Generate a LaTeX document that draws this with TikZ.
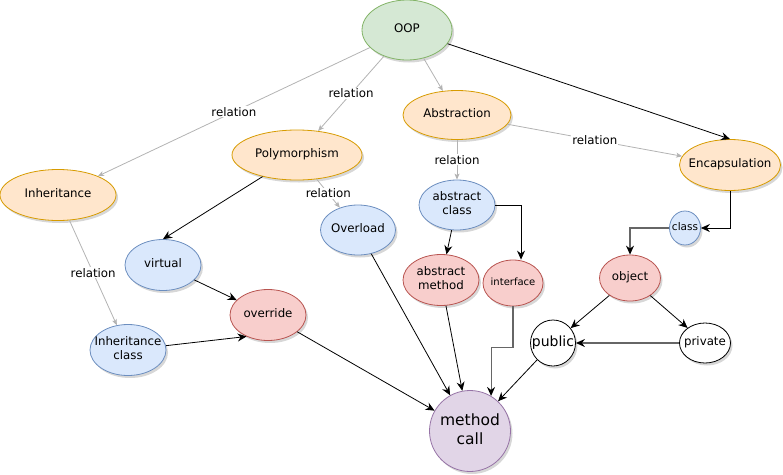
\documentclass[tikz,border=0pt]{standalone}
\usepackage{fontspec}
\setmainfont{DejaVu Sans}
\usepackage{xcolor}
\usepackage{tikz}
\usetikzlibrary{arrows.meta,shapes.geometric,shadows}

\definecolor{grnfill}{HTML}{D5E8D4} \definecolor{grnline}{HTML}{82B366}
\definecolor{orgfill}{HTML}{FFE6CC} \definecolor{orgline}{HTML}{D79B00}
\definecolor{blufill}{HTML}{DAE8FC} \definecolor{bluline}{HTML}{6C8EBF}
\definecolor{redfill}{HTML}{F8CECC} \definecolor{redline}{HTML}{B85450}
\definecolor{purfill}{HTML}{E1D5E7} \definecolor{purline}{HTML}{9673A6}
\definecolor{relgray}{HTML}{B3B3B3} \definecolor{edgegray}{HTML}{666666}

% text that may run over the ellipse, as in the drawing
\newcommand{\nb}[1]{\makebox[0pt]{\begin{tabular}{@{}c@{}}#1\end{tabular}}}

\begin{document}
\begin{tikzpicture}[x=1pt,y=-1pt,
  every node/.style={font=\fontsize{11.8}{14}\selectfont},
  bubble/.style={ellipse,draw,line width=0.8pt,inner sep=0pt,
    drop shadow={shadow xshift=2pt,shadow yshift=-2.5pt,fill=black!45,opacity=0.35}},
  grn/.style={bubble,fill=grnfill,draw=grnline},
  org/.style={bubble,fill=orgfill,draw=orgline},
  blu/.style={bubble,fill=blufill,draw=bluline},
  red/.style={bubble,fill=redfill,draw=redline},
  pur/.style={bubble,fill=purfill,draw=purline},
  wht/.style={bubble,fill=white,draw=black},
  rel/.style={draw=relgray,line width=0.8pt,-{Stealth[length=6pt,width=5pt,inset=1.5pt]}},
  arr/.style={draw=black,line width=0.8pt,-{Stealth[length=9pt,width=8pt,inset=3pt]}},
  darr/.style={draw=edgegray,line width=1.1pt,-{Stealth[length=9pt,width=8pt,inset=3pt,color=black]}},
  lbl/.style={fill=white,inner sep=1pt}]
\useasboundingbox (0,0) rectangle (783,474);
% nodes
\node[grn,minimum width=90,minimum height=60] (oop) at (407,30) {\nb{OOP}};
\node[org,minimum width=108,minimum height=49] (abstr) at (457,115) {\nb{Abstraction}};
\node[org,minimum width=101,minimum height=51] (encap) at (730,165) {\nb{Encapsulation}};
\node[org,minimum width=130,minimum height=50] (poly) at (297,155) {\nb{Polymorphism}};
\node[org,minimum width=116,minimum height=51] (inh) at (58,195) {\nb{Inheritance}};
\node[blu,minimum width=76,minimum height=50] (acls) at (457,205) {\nb{abstract\\class}};
\node[blu,minimum width=31,minimum height=34,font=\fontsize{10.5}{12}\selectfont] (cls) at (685,228) {\nb{class}};
\node[blu,minimum width=75,minimum height=50] (ovl) at (358,230) {\nb{Overload}};
\node[blu,minimum width=76,minimum height=51] (virt) at (163,265) {\nb{virtual}};
\node[blu,minimum width=76,minimum height=51] (inhc) at (128,350) {\nb{Inheritance\\class}};
\node[red,minimum width=76,minimum height=51] (ovr) at (268,315) {\nb{override}};
\node[red,minimum width=76,minimum height=51] (amth) at (441,280) {\nb{abstract\\method}};
\node[red,minimum width=60,minimum height=46,font=\fontsize{10}{12}\selectfont] (iface) at (513,283) {\nb{interface}};
\node[red,minimum width=61,minimum height=46] (obj) at (630,278) {\nb{object}};
\node[wht,minimum width=45,minimum height=46,font=\fontsize{14}{16}\selectfont] (pub) at (553,343) {\nb{public}};
\node[wht,minimum width=51,minimum height=40] (priv) at (705,343) {\nb{private}};
\node[pur,minimum width=81,minimum height=81,font=\fontsize{15.5}{19}\selectfont] (mc) at (470,431) {\nb{method\\call}};
% relations
\draw[rel] (oop) -- node[lbl]{relation} (inh);
\draw[rel] (oop) -- node[lbl]{relation} (poly);
\draw[rel] (oop) -- (abstr);
\draw[rel] (abstr) -- node[lbl]{relation} (encap);
\draw[rel] (abstr) -- node[lbl]{relation} (acls);
\draw[rel] (poly) -- node[lbl]{relation} (ovl);
\draw[rel] (inh) -- node[lbl]{relation} (inhc);
% arrows
\draw[arr] (oop) -- (encap.north);
\draw[arr] (poly) -- (virt.north);
\draw[arr] (virt) -- (ovr);
\draw[arr] (inhc) -- (ovr.225);
\draw[arr] (acls) -- (amth);
\draw[arr] (acls.east) -| ([xshift=8pt]iface.north);
\draw[arr] (encap.south) |- (cls.east);
\draw[darr] (cls.west) -| (obj.north);
\draw[arr] (obj) -- (pub);
\draw[arr] (obj) -- (priv);
\draw[darr] (priv.west) -- (pub.east);
% into method call
\draw[arr] (ovr) -- (mc);
\draw[arr] (ovl) -- (mc);
\draw[arr] (amth) -- (mc);
\draw[darr] (iface.south) -- ++(0,41) -| (mc.59);
\draw[arr] (pub) -- (mc);
\end{tikzpicture}
\end{document}
